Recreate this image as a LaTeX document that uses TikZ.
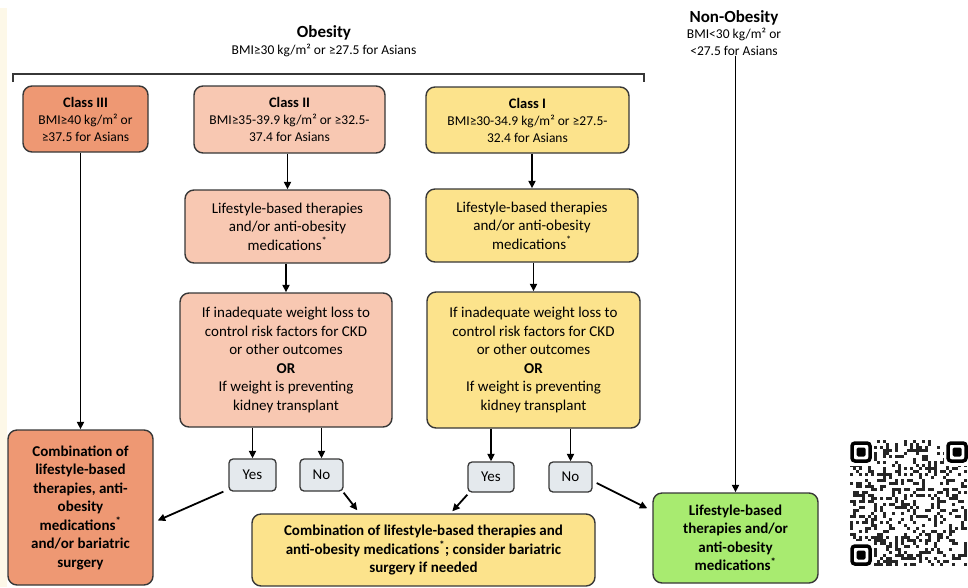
\documentclass[tikz,border=0pt]{standalone}
\usepackage{fontspec}
\setmainfont{Carlito}
\usetikzlibrary{positioning,calc,arrows.meta}

\definecolor{edge}{RGB}{55,55,55}
\definecolor{classthree}{RGB}{238,152,115}
\definecolor{classtwo}{RGB}{248,200,178}
\definecolor{classone}{RGB}{252,227,140}
\definecolor{nonobese}{RGB}{168,235,112}
\definecolor{answer}{RGB}{228,233,237}
\definecolor{cream}{RGB}{253,248,232}

\tikzset{
	box/.style={draw=edge, line width=1.4pt, rounded corners=9pt, align=center, inner sep=2pt, font=\fontsize{15}{18.5}\selectfont},
	classbox/.style={box, font=\fontsize{13.5}{17}\selectfont},
	boldbox/.style={box, font=\fontsize{15}{18.5}\selectfont\bfseries},
	answerbox/.style={draw=edge, line width=1.3pt, rounded corners=4pt, fill=answer, inner sep=1pt, font=\fontsize{15}{18}\selectfont},
	arr/.style={black, line width=1.8pt, -{Triangle[length=7.5pt,width=7pt]}},
	head/.style={align=center, inner sep=0pt, font=\fontsize{13.5}{16.5}\selectfont},
}
\newcommand{\classtitle}[1]{{\fontsize{14.5}{17}\selectfont\bfseries #1}}
\newcommand{\med}{medications\textsuperscript{*}}

\begin{document}
\begin{tikzpicture}[x=1pt,y=-1pt]
	\useasboundingbox (0,0) rectangle (968,587);
	\fill[cream] (0,8) rectangle (7,587);

\node[head] (OB) at (324,41) {{\fontsize{17}{20}\selectfont\bfseries Obesity}\\BMI≥30 kg/m² or ≥27.5 for Asians};
\node[head] (NO) at (734,33) {{\fontsize{17}{20}\selectfont\bfseries Non-Obesity}\\BMI<30 kg/m² or\\<27.5 for Asians};
\draw[edge, line width=1.3pt] (13,82) -- (13,74) -- (644,74) -- (644,82);

\node[classbox, fill=classthree, minimum width=125pt, minimum height=66pt] (C3) at (85.5,119) {\classtitle{Class III}\\BMI≥40 kg/m² or\\≥37.5 for Asians};
\node[classbox, fill=classtwo, minimum width=191pt, minimum height=67pt] (C2) at (289.5,119.5) {\classtitle{Class II}\\BMI≥35-39.9 kg/m² or ≥32.5-\\37.4 for Asians};
\node[classbox, fill=classone, minimum width=203pt, minimum height=66pt] (C1) at (527.5,120) {\classtitle{Class I}\\BMI≥30-34.9 kg/m² or ≥27.5-\\32.4 for Asians};

\node[box, fill=classtwo, minimum width=205pt, minimum height=73pt] (L2) at (287.5,226.5) {Lifestyle-based therapies\\and/or anti-obesity\\\med};
\node[box, fill=classone, minimum width=212pt, minimum height=73pt] (L1) at (532,225.5) {Lifestyle-based therapies\\and/or anti-obesity\\\med};

\node[box, fill=classtwo, minimum width=212pt, minimum height=134pt] (D2) at (286,360) {If inadequate weight loss to\\control risk factors for CKD\\or other outcomes\\\textbf{OR}\\If weight is preventing\\kidney transplant};
\node[box, fill=classone, minimum width=213pt, minimum height=136pt] (D1) at (533.5,360) {If inadequate weight loss to\\control risk factors for CKD\\or other outcomes\\\textbf{OR}\\If weight is preventing\\kidney transplant};

\node[answerbox, minimum width=47pt, minimum height=32pt] (Y2) at (252.5,475) {Yes};
\node[answerbox, minimum width=43pt, minimum height=32pt] (N2) at (321.5,475) {No};
\node[answerbox, minimum width=46pt, minimum height=30pt] (Y1) at (491,477) {Yes};
\node[answerbox, minimum width=43pt, minimum height=30pt] (N1) at (570.5,477) {No};

\node[boldbox, fill=classthree, minimum width=145pt, minimum height=155pt] (T3) at (80.5,507.5) {Combination of\\lifestyle-based\\therapies, anti-\\obesity\\\med\\and/or bariatric\\surgery};
\node[boldbox, fill=classone, minimum width=343pt, minimum height=72pt] (TB) at (423.5,550) {Combination of lifestyle-based therapies and\\anti-obesity \med; consider bariatric\\surgery if needed};
\node[boldbox, fill=nonobese, minimum width=165pt, minimum height=90pt] (TG) at (735.5,538) {Lifestyle-based\\therapies and/or\\anti-obesity\\\med};

\draw[arr] (T3.north |- C3.south) -- (T3.north);
\draw[arr] (L2.north |- C2.south) -- (L2.north);
\draw[arr] (D2.north |- L2.south) -- (D2.north);
\draw[arr] (L1.north |- C1.south) -- (L1.north);
\draw[arr] (D1.north |- L1.south) -- (D1.north);
\draw[arr] (Y2.north |- D2.south) -- (Y2.north);
\draw[arr] (N2.north |- D2.south) -- (N2.north);
\draw[arr] (Y1.north |- D1.south) -- (Y1.north);
\draw[arr] (N1.north |- D1.south) -- (N1.north);
\draw[arr] (TG.north |- NO.south) -- (TG.north);

\draw[arr] ($(Y2.south west)+(-5,0)$) -- ($(T3.east)+(4,13)$);
\draw[arr] ($(N2.south east)+(0,1)$) -- ($(TB.north west)+(106,-3)$);
\draw[arr] ($(Y1.south west)+(0,2)$) -- ($(TB.north west)+(201,-2)$);
\draw[arr] ($(N1.east)+(4,6)$) -- ($(TG.north west)+(-5,16)$);

% qr code
\pgfmathsetmacro{\q}{3}
\pgfmathsetseed{11}
\foreach \i in {0,...,38}
	\foreach \j in {0,...,41}{
		\pgfmathparse{int(rnd<0.32)}
		\ifnum\pgfmathresult=1 \fill[black!85] (850+\q*\i,440+\q*\j) rectangle ++(\q,\q); \fi
	}
\foreach \x/\y in {848/438, 944/438, 848/541}{
	\fill[white] (\x,\y) rectangle ++(26,28);
	\draw[line width=3.5pt, rounded corners=3pt] (\x+4,\y+5) rectangle ++(18,18);
	\fill[rounded corners=1.5pt] (\x+8.5,\y+9.5) rectangle ++(9,9);
}

\end{tikzpicture}
\end{document}
